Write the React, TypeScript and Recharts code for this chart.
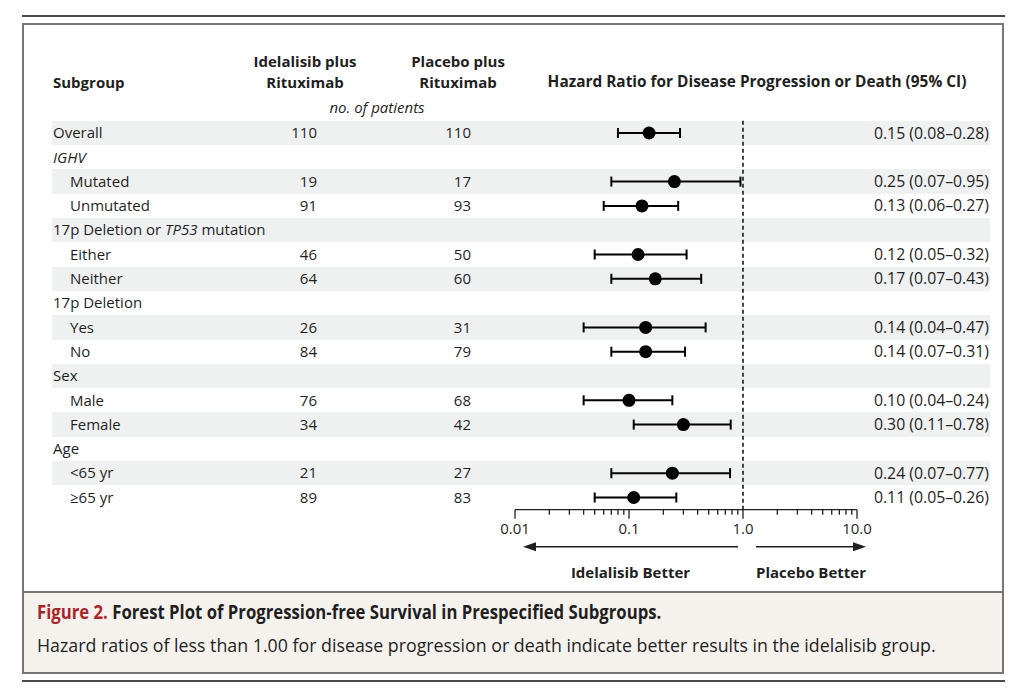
import React from "react";
import {
  ScatterChart,
  Scatter,
  XAxis,
  YAxis,
  CartesianGrid,
  ReferenceLine,
  ErrorBar,
} from "recharts";

// rows of the forest plot, top to bottom
const subgroups = [
  "Overall",
  "IGHV",
  "Mutated",
  "Unmutated",
  "17p Deletion or TP53 mutation",
  "Either",
  "Neither",
  "17p Deletion",
  "Yes",
  "No",
  "Sex",
  "Male",
  "Female",
  "Age",
  "<65 yr",
  "≥65 yr",
];
const indented = [false, false, true, true, false, true, true, false, true, true, false, true, true, false, true, true];
const idelalisibN = [110, null, 19, 91, null, 46, 64, null, 26, 84, null, 76, 34, null, 21, 89];
const placeboN = [110, null, 17, 93, null, 50, 60, null, 31, 79, null, 68, 42, null, 27, 83];
const hazardRatio = [0.15, null, 0.25, 0.13, null, 0.12, 0.17, null, 0.14, 0.14, null, 0.1, 0.3, null, 0.24, 0.11];
const ciLow = [0.08, null, 0.07, 0.06, null, 0.05, 0.07, null, 0.04, 0.07, null, 0.04, 0.11, null, 0.07, 0.05];
const ciHigh = [0.28, null, 0.95, 0.27, null, 0.32, 0.43, null, 0.47, 0.31, null, 0.24, 0.78, null, 0.77, 0.26];

const majorTicks = [0.01, 0.1, 1, 10];
const majorTickLabels = ["0.01", "0.1", "1.0", "10.0"];
const minorTicks = [
  0.02, 0.03, 0.04, 0.05, 0.06, 0.07, 0.08, 0.09,
  0.2, 0.3, 0.4, 0.5, 0.6, 0.7, 0.8, 0.9,
  2, 3, 4, 5, 6, 7, 8, 9,
];

const FONT = "'Open Sans', 'Noto Sans', sans-serif";
const INK = "#1f1f1f";
const BAND = "#eff1f1";

const rowIndex = subgroups.map((_, i) => i);
const bandEdges = [...rowIndex.map((i) => i - 0.5), subgroups.length - 0.5];
const allTicks = [...majorTicks, ...minorTicks].sort((a, b) => a - b);

const points = rowIndex
  .filter((i) => hazardRatio[i] != null)
  .map((i) => ({
    row: i,
    hr: hazardRatio[i] as number,
    err: [(hazardRatio[i] as number) - (ciLow[i] as number), (ciHigh[i] as number) - (hazardRatio[i] as number)],
  }));

const fmt = (v: number) => v.toFixed(2);

function SubgroupName({ name }: { name: string }) {
  if (name === "IGHV") return <tspan fontStyle="italic">IGHV</tspan>;
  if (name.includes("TP53")) {
    const [a, b] = name.split("TP53");
    return (
      <>
        <tspan>{a}</tspan>
        <tspan fontStyle="italic">TP53</tspan>
        <tspan>{b}</tspan>
      </>
    );
  }
  return <tspan>{name}</tspan>;
}

function RowTick(props: any) {
  const { y, payload } = props;
  const i = payload.value as number;
  const hr = hazardRatio[i];
  const common = { y, dy: "0.35em", fontSize: 15, fill: INK, fontFamily: FONT };
  return (
    <g>
      <text x={indented[i] ? 70 : 53} {...common}>
        <SubgroupName name={subgroups[i]} />
      </text>
      {idelalisibN[i] != null && (
        <text x={317} textAnchor="end" {...common}>
          {idelalisibN[i]}
        </text>
      )}
      {placeboN[i] != null && (
        <text x={471} textAnchor="end" {...common}>
          {placeboN[i]}
        </text>
      )}
      {hr != null && (
        <text x={989} textAnchor="end" {...common} fontSize={15.8}>
          {`${fmt(hr)} (${fmt(ciLow[i] as number)}–${fmt(ciHigh[i] as number)})`}
        </text>
      )}
    </g>
  );
}

function HrTick(props: any) {
  const { x, y, payload } = props;
  const mi = majorTicks.indexOf(payload.value);
  const major = mi >= 0;
  return (
    <g>
      <line x1={x} x2={x} y1={y} y2={y + (major ? 9 : 5)} stroke={INK} strokeWidth={1.3} />
      {major && (
        <text x={x} y={y + 19} dy="0.35em" textAnchor="middle" fontSize={15} fill={INK} fontFamily={FONT}>
          {majorTickLabels[mi]}
        </text>
      )}
    </g>
  );
}

function BetterArrows(props: any) {
  const vb = props.viewBox;
  if (!vb) return null;
  const lo = Math.log10(majorTicks[0]);
  const hi = Math.log10(majorTicks[majorTicks.length - 1]);
  const xOne = vb.x + (vb.width * (0 - lo)) / (hi - lo);
  const ay = vb.y + 37;
  const ty = vb.y + 63;
  const l1 = vb.x + 8;
  const l2 = xOne - 5;
  const r1 = xOne + 13;
  const r2 = vb.x + vb.width + 9;
  const lbl = { y: ty, dy: "0.35em", textAnchor: "middle" as const, fontSize: 15, fontWeight: 700, fill: INK, fontFamily: FONT };
  return (
    <g>
      <line x1={l1 + 10} x2={l2} y1={ay} y2={ay} stroke={INK} strokeWidth={1.5} />
      <polygon points={`${l1},${ay} ${l1 + 13},${ay - 4.5} ${l1 + 13},${ay + 4.5}`} fill={INK} />
      <line x1={r1} x2={r2 - 10} y1={ay} y2={ay} stroke={INK} strokeWidth={1.5} />
      <polygon points={`${r2},${ay} ${r2 - 13},${ay - 4.5} ${r2 - 13},${ay + 4.5}`} fill={INK} />
      <text x={(l1 + l2) / 2} {...lbl}>Idelalisib Better</text>
      <text x={(r1 + r2) / 2} {...lbl}>Placebo Better</text>
    </g>
  );
}

function Txt({
  x,
  y,
  anchor = "start",
  bold,
  italic,
  size = 15,
  children,
}: {
  x: number;
  y: number;
  anchor?: "start" | "middle";
  bold?: boolean;
  italic?: boolean;
  size?: number;
  children: React.ReactNode;
}) {
  return (
    <div
      style={{
        position: "absolute",
        left: x,
        top: y,
        transform: anchor === "middle" ? "translate(-50%, -50%)" : "translate(0, -50%)",
        whiteSpace: "nowrap",
        lineHeight: 1,
        fontSize: size,
        fontWeight: bold ? 700 : 400,
        fontStyle: italic ? "italic" : "normal",
      }}
    >
      {children}
    </div>
  );
}

export default function App() {
  return (
    <div
      style={{
        position: "absolute",
        left: 0,
        top: 0,
        width: 1024,
        height: 699,
        background: "#fff",
        overflow: "hidden",
        fontFamily: FONT,
        color: INK,
      }}
    >
      {/* rules and frames */}
      <div style={{ position: "absolute", left: 22, top: 15, width: 983, height: 2, background: "#4a4a4a" }} />
      <div style={{ position: "absolute", left: 22, top: 592, width: 982, height: 82, background: "#f5f2ee" }} />
      <div
        style={{
          position: "absolute",
          left: 22,
          top: 23,
          width: 982,
          height: 651,
          border: "2px solid #767676",
          boxSizing: "border-box",
        }}
      />
      <div style={{ position: "absolute", left: 22, top: 591, width: 982, height: 2, background: "#767676" }} />
      <div style={{ position: "absolute", left: 22, top: 680, width: 983, height: 2, background: "#4a4a4a" }} />

      <div style={{ position: "absolute", left: 0, top: 0 }}>
        <ScatterChart
          width={1024}
          height={600}
          margin={{ top: 120.85, right: 167, bottom: 10.35, left: 0 }}
        >
          <CartesianGrid
            x={52}
            width={938}
            y={0}
            height={510}
            horizontal
            vertical={false}
            horizontalValues={bandEdges}
            horizontalFill={["transparent", BAND]}
            stroke="none"
          />
          <XAxis
            type="number"
            dataKey="hr"
            scale="log"
            domain={[majorTicks[0], majorTicks[majorTicks.length - 1]]}
            allowDataOverflow
            ticks={allTicks}
            interval={0}
            tick={<HrTick />}
            tickLine={false}
            tickSize={0}
            tickMargin={0}
            axisLine={{ stroke: INK, strokeWidth: 1.3 }}
            height={80}
            label={BetterArrows}
          />
          <YAxis
            type="number"
            dataKey="row"
            domain={[-0.5, subgroups.length - 0.5]}
            reversed
            ticks={rowIndex}
            interval={0}
            width={515}
            tick={<RowTick />}
            tickLine={false}
            axisLine={false}
          />
          <ReferenceLine x={1} stroke="#333" strokeWidth={1.8} strokeDasharray="4 3" />
          <Scatter
            data={points}
            isAnimationActive={false}
            shape={(p: any) => <circle cx={p.cx} cy={p.cy} r={6.5} fill="#000" />}
          >
            <ErrorBar dataKey="err" direction="x" width={5} strokeWidth={2} stroke="#000" />
          </Scatter>
        </ScatterChart>
      </div>

      {/* column headers */}
      <Txt x={53} y={82} bold>Subgroup</Txt>
      <Txt x={305} y={61} anchor="middle" bold>Idelalisib plus</Txt>
      <Txt x={305} y={82} anchor="middle" bold>Rituximab</Txt>
      <Txt x={458} y={61} anchor="middle" bold>Placebo plus</Txt>
      <Txt x={458} y={82} anchor="middle" bold>Rituximab</Txt>
      <Txt x={757} y={82} anchor="middle" bold size={15.4}>Hazard Ratio for Disease Progression or Death (95% CI)</Txt>
      <Txt x={377} y={107} anchor="middle" italic>no. of patients</Txt>

      {/* caption */}
      <div
        style={{
          position: "absolute",
          left: 37,
          top: 602,
          transform: "scaleX(0.88)",
          transformOrigin: "0 0",
          whiteSpace: "nowrap",
          lineHeight: "20px",
          fontSize: 19,
          fontWeight: 700,
        }}
      >
        <span style={{ color: "#a8262b" }}>Figure 2.</span> Forest Plot of Progression-free Survival in Prespecified Subgroups.
      </div>
      <Txt x={37} y={646} size={17.8}>
        Hazard ratios of less than 1.00 for disease progression or death indicate better results in the idelalisib group.
      </Txt>
    </div>
  );
}
